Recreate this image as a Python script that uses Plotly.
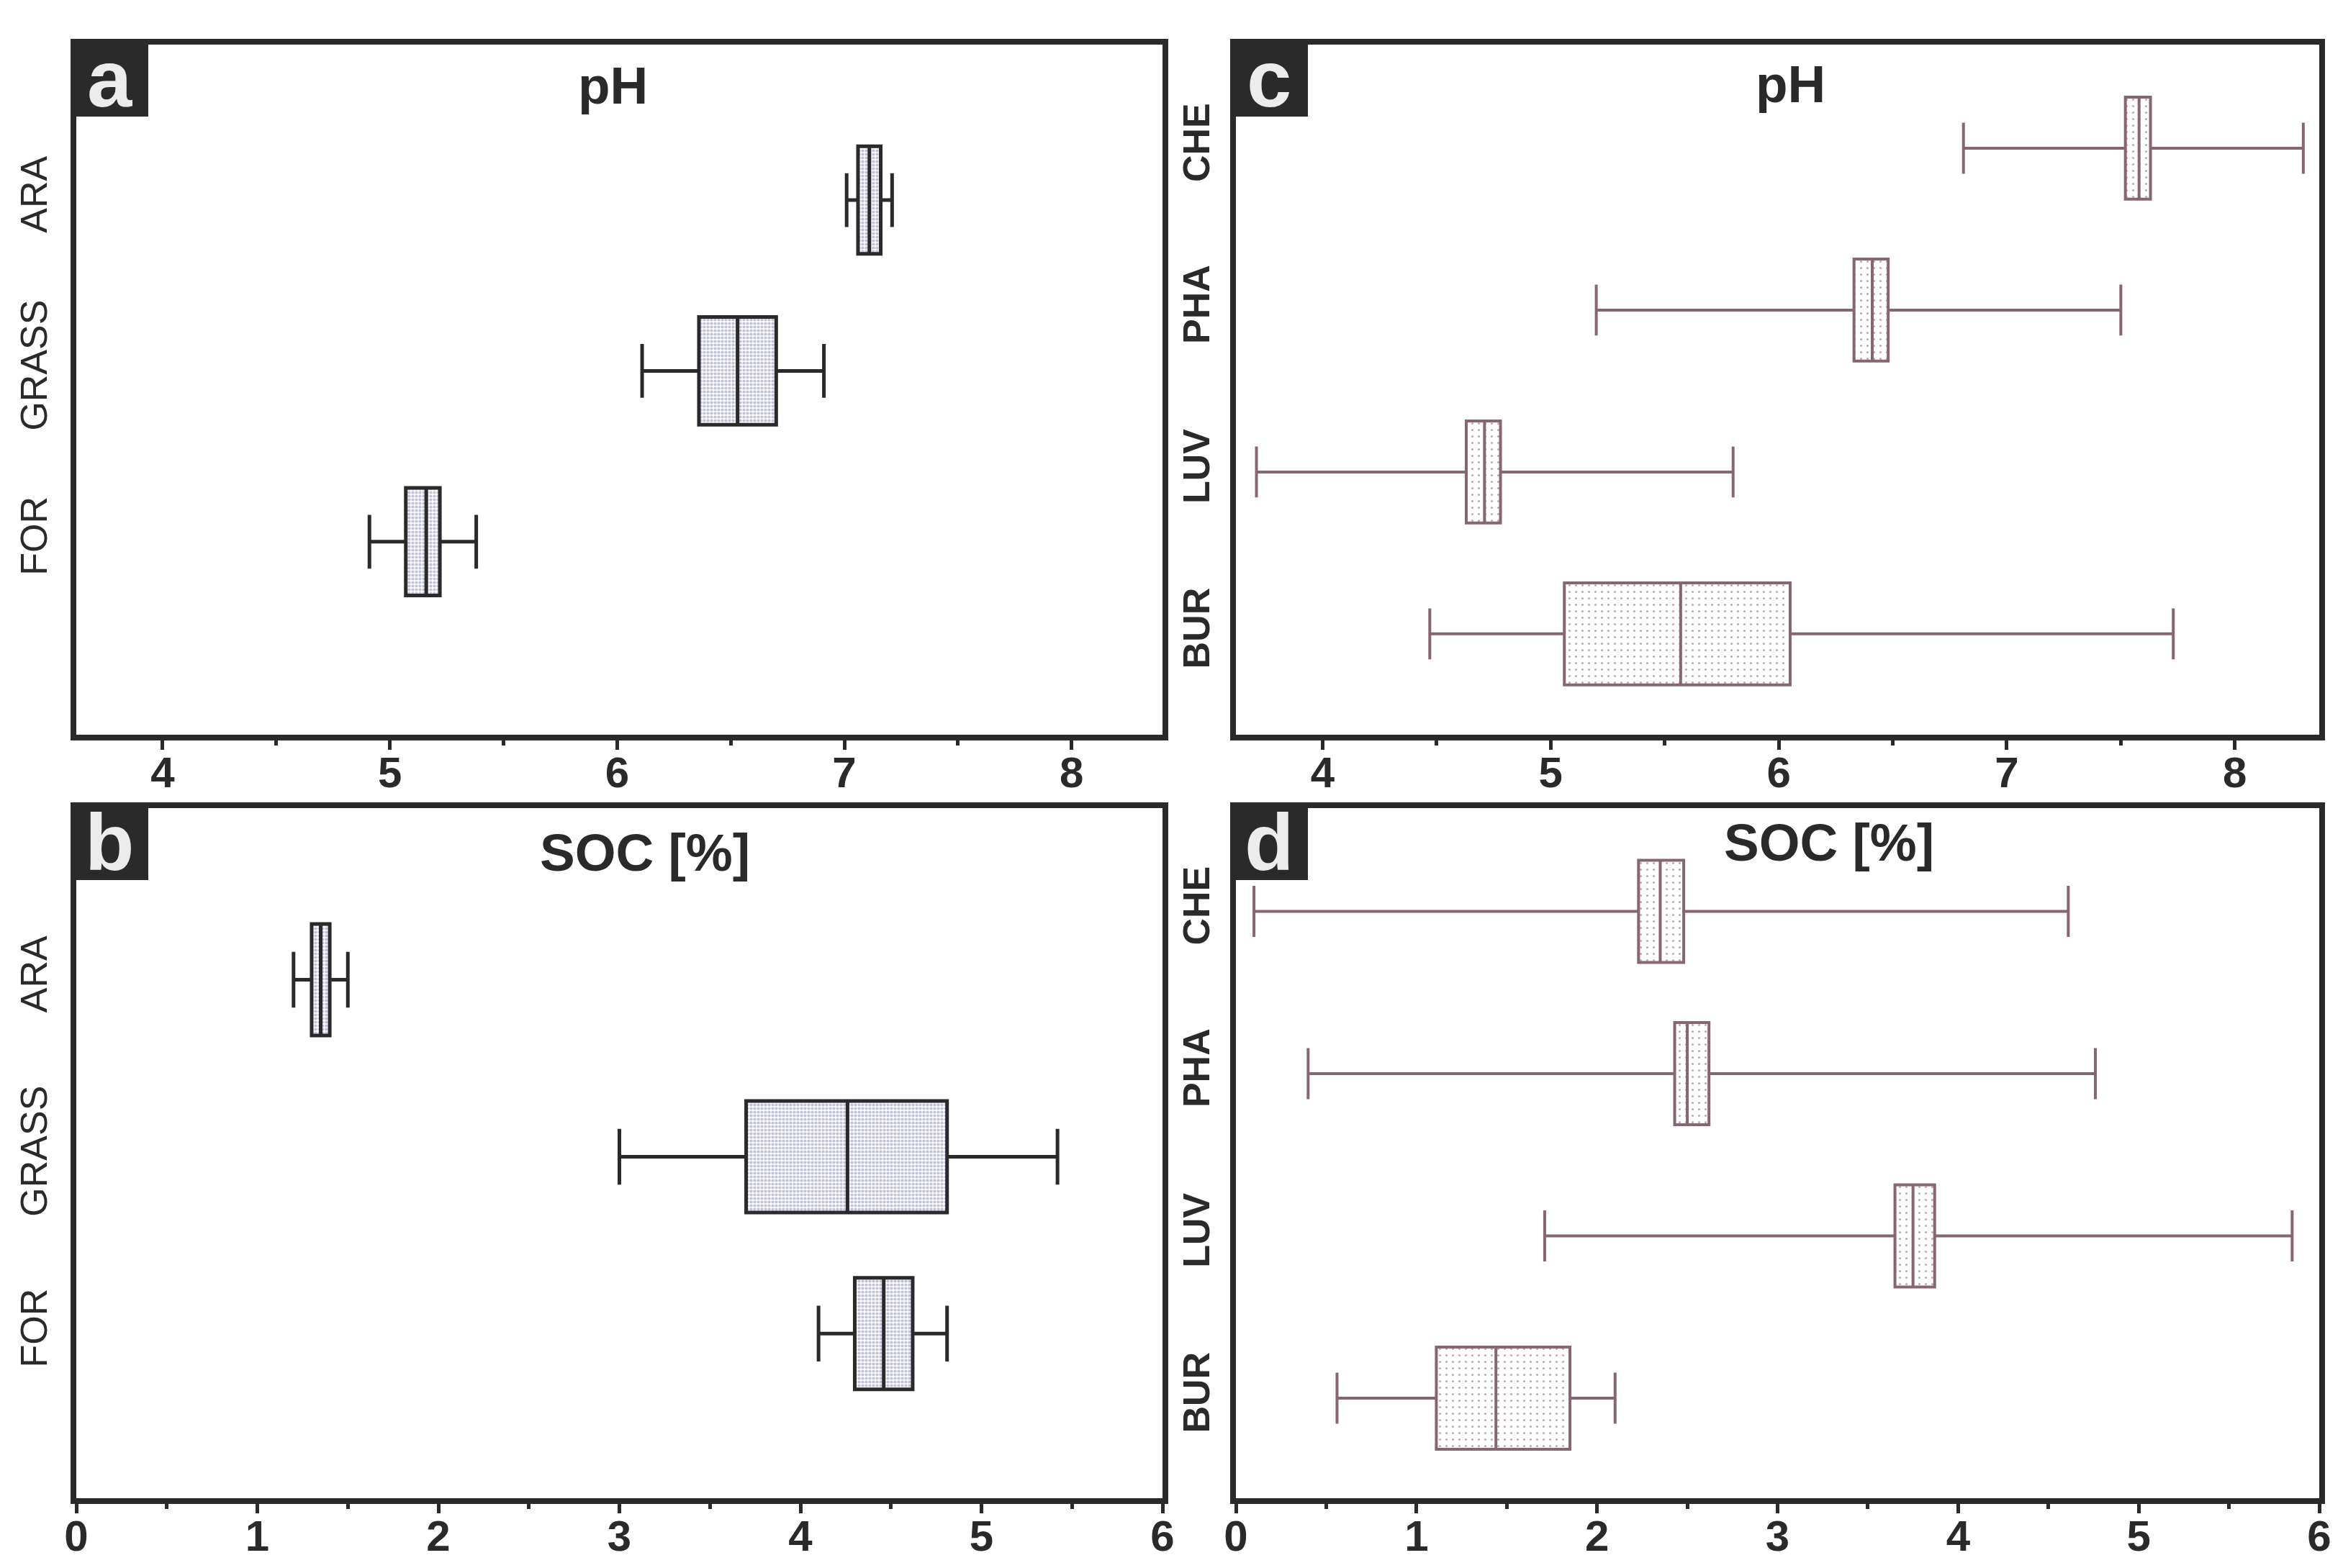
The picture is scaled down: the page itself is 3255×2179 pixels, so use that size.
import plotly.graph_objects as go
from plotly.subplots import make_subplots

W, H = 3255, 2179

# categories, bottom to top
LAND_USE = ["FOR", "GRASS", "ARA"]
SOIL = ["BUR", "LUV", "PHA", "CHE"]

# per category: lower whisker, q1, median, q3, upper whisker
PH_LAND = [(4.91, 5.07, 5.16, 5.22, 5.38),
           (6.11, 6.36, 6.53, 6.70, 6.91),
           (7.01, 7.06, 7.11, 7.16, 7.21)]
SOC_LAND = [(4.10, 4.30, 4.46, 4.62, 4.81),
            (3.00, 3.70, 4.26, 4.81, 5.42),
            (1.20, 1.30, 1.35, 1.40, 1.50)]
PH_SOIL = [(4.47, 5.06, 5.57, 6.05, 7.73),
           (3.71, 4.63, 4.71, 4.78, 5.80),
           (5.20, 6.33, 6.41, 6.48, 7.50),
           (6.81, 7.52, 7.58, 7.63, 8.30)]
SOC_SOIL = [(0.56, 1.11, 1.44, 1.85, 2.10),
            (1.71, 3.65, 3.75, 3.87, 5.85),
            (0.40, 2.43, 2.50, 2.62, 4.76),
            (0.10, 2.23, 2.35, 2.48, 4.61)]

PH_TICKS = [4, 5, 6, 7, 8]
SOC_TICKS = [0, 1, 2, 3, 4, 5, 6]

DARK = "#2a2a2a"
MAUVE = "#87666f"
FONT = "Liberation Sans, Arial, sans-serif"
BOX_W = 0.63


def px_x(v):
    return v / W


def px_y(v):
    return 1 - v / H


# row, col, letter, title, cats, stats, ticks, xrange, yrange,
# inner frame px (l, r, t, b), title centre px, style
panels = [
    (1, 1, "a", "pH", LAND_USE, PH_LAND, PH_TICKS, [3.62, 8.40], [-0.13, 3.91],
     (98, 1607, 54, 1013), (843, 110), "land"),
    (2, 1, "b", "SOC [%]", LAND_USE, SOC_LAND, SOC_TICKS, [0, 6], [0.07, 3.97],
     (98, 1607, 1115, 2074), (888, 1176), "land"),
    (1, 2, "c", "pH", SOIL, PH_SOIL, PH_TICKS, [3.62, 8.37], [0.377, 4.64],
     (1709, 3214, 54, 1013), (2479, 108), "soil"),
    (2, 2, "d", "SOC [%]", SOIL, SOC_SOIL, SOC_TICKS, [0, 6], [0.384, 4.636],
     (1709, 3214, 1115, 2074), (2533, 1162), "soil"),
]

styles = {
    "land": dict(line=DARK, lw=5, dot="#8486b4", dsize=5, dsol=0.55,
                 yweight="normal", standoff=12),
    "soil": dict(line=MAUVE, lw=4, dot="#6e5660", dsize=9, dsol=0.09,
                 yweight="bold", standoff=8),
}

fig = make_subplots(rows=2, cols=2)
shapes, annotations = [], []

for row, col, letter, title, cats, stats, ticks, xr, yr, box, tc, sk in panels:
    st = styles[sk]
    pos = list(range(1, len(cats) + 1))
    lo, q1, med, q3, hi = (list(v) for v in zip(*stats))

    # patterned box fill
    fig.add_trace(go.Bar(
        y=pos, x=[b - a for a, b in zip(q1, q3)], base=q1, orientation="h",
        width=BOX_W, showlegend=False, hoverinfo="skip",
        marker=dict(color="white", line=dict(width=0),
                    pattern=dict(shape=".", fgcolor=st["dot"], bgcolor="white",
                                 size=st["dsize"], solidity=st["dsol"])),
    ), row=row, col=col)

    fig.add_trace(go.Box(
        y=pos, q1=q1, median=med, q3=q3, lowerfence=lo, upperfence=hi,
        orientation="h", width=BOX_W, whiskerwidth=0.5, boxpoints=False,
        fillcolor="rgba(0,0,0,0)", line=dict(color=st["line"], width=st["lw"]),
        showlegend=False,
    ), row=row, col=col)

    l, r, t, b = box
    fig.update_xaxes(
        domain=[px_x(l), px_x(r)], range=xr, tickvals=ticks, automargin=False,
        ticks="outside", ticklen=13, tickwidth=5, tickcolor=DARK,
        ticklabelstandoff=-20,
        minor=dict(dtick=0.5, ticks="outside", ticklen=7, tickwidth=5, tickcolor=DARK),
        showline=True, mirror=True, linewidth=8, linecolor=DARK,
        showgrid=False, zeroline=False,
        tickfont=dict(family=FONT, size=60, color=DARK, weight="bold"),
        row=row, col=col)
    fig.update_yaxes(
        domain=[px_y(b), px_y(t)], range=yr, tickvals=pos, ticktext=cats,
        automargin=False, tickangle=-90, ticks="", ticklabelstandoff=st["standoff"],
        showline=True, mirror=True, linewidth=8, linecolor=DARK,
        showgrid=False, zeroline=False,
        tickfont=dict(family=FONT, size=52, color=DARK, weight=st["yweight"]),
        row=row, col=col)

    # panel letter tag
    x0, y0 = l - 8, t - 8
    shapes.append(dict(type="rect", xref="paper", yref="paper",
                       x0=px_x(x0), x1=px_x(x0 + 108), y0=px_y(y0), y1=px_y(y0 + 108),
                       fillcolor=DARK, line=dict(width=0), layer="above"))
    annotations.append(dict(text=letter, xref="paper", yref="paper",
                            x=px_x(x0 + 54), y=px_y(y0 + 55), xanchor="center", yanchor="middle",
                            showarrow=False,
                            font=dict(family=FONT, size=112, color="#ececec", weight="bold")))
    annotations.append(dict(text=title, xref="paper", yref="paper",
                            x=px_x(tc[0]), y=px_y(tc[1]), xanchor="center", yanchor="middle",
                            showarrow=False,
                            font=dict(family=FONT, size=73, color=DARK, weight="bold")))

fig.update_layout(
    width=W, height=H,
    margin=dict(l=0, r=0, t=0, b=0, autoexpand=False),
    plot_bgcolor="white", paper_bgcolor="white",
    barmode="overlay", boxmode="overlay",
    shapes=shapes, annotations=annotations,
    showlegend=False,
)

fig.write_html("out.html")
